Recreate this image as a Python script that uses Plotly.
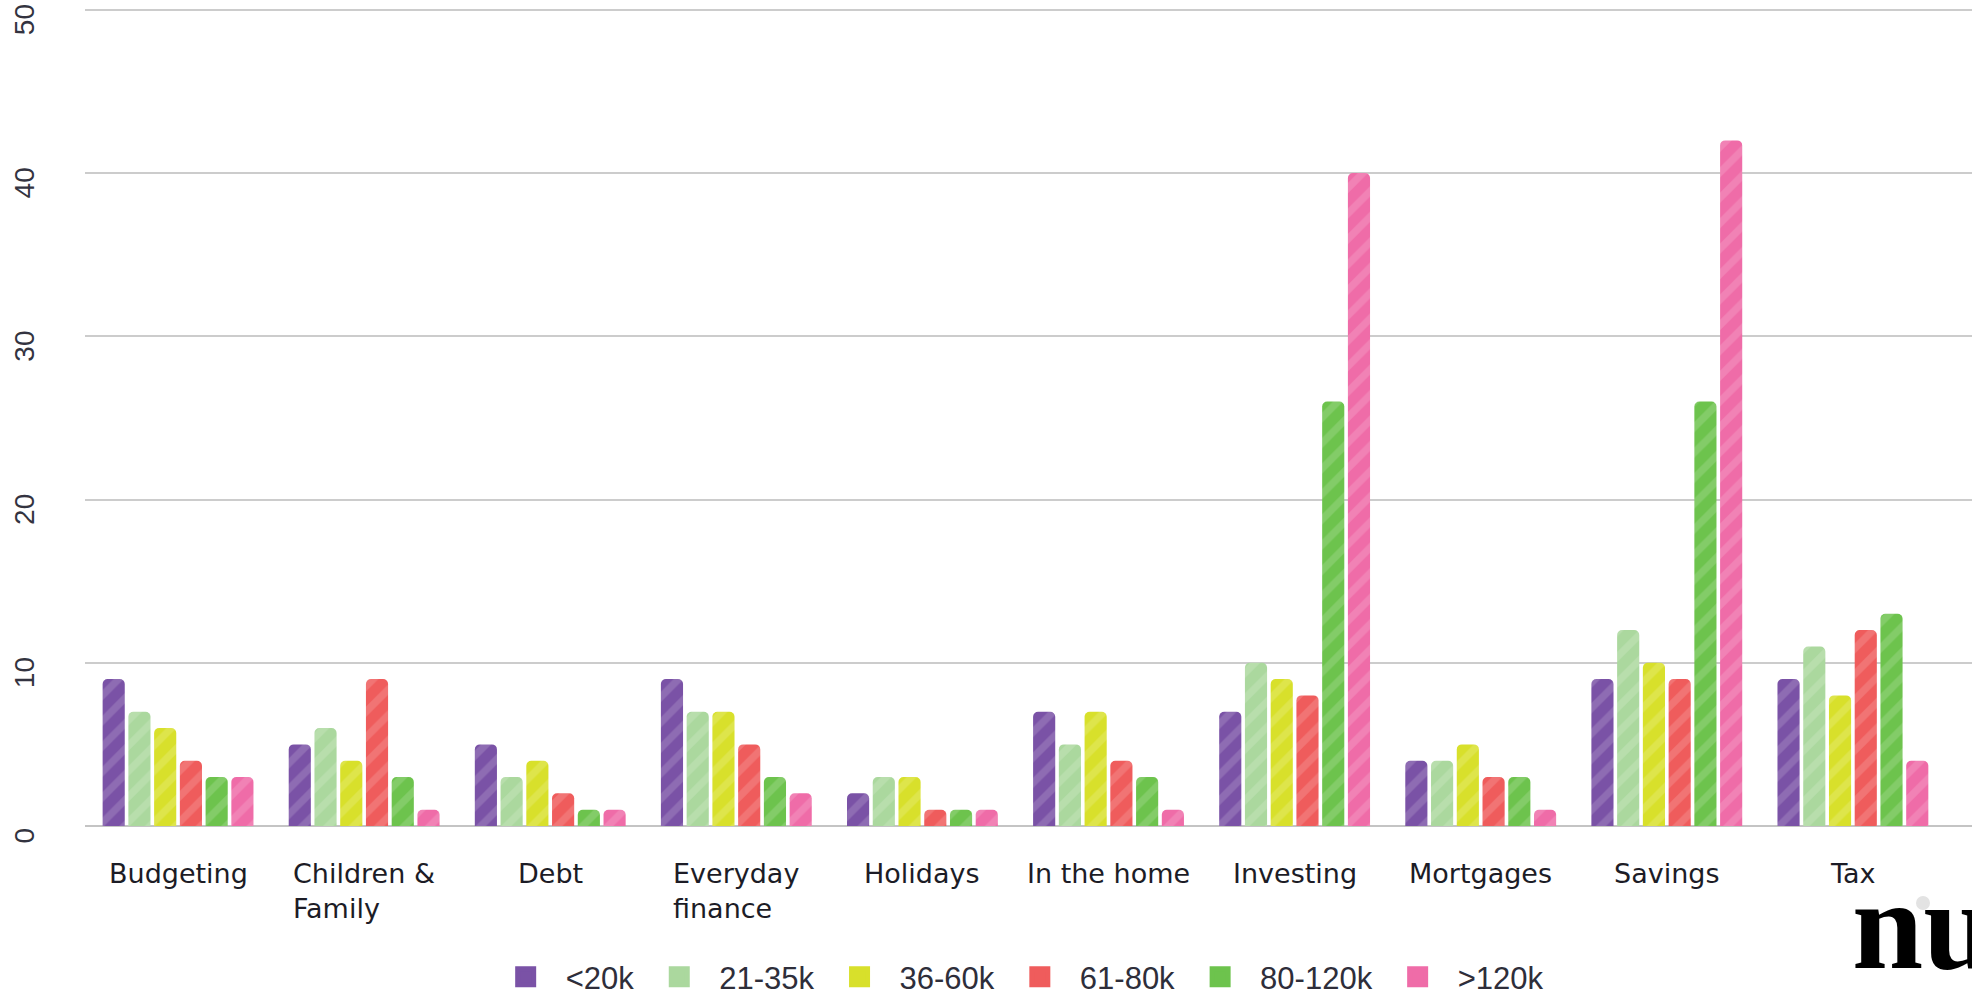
import plotly.graph_objects as go

categories = ["Budgeting", "Children &<br>Family", "Debt", "Everyday<br>finance", "Holidays",
              "In the home", "Investing", "Mortgages", "Savings", "Tax"]
series_names = ["<20k", "21-35k", "36-60k", "61-80k", "80-120k", ">120k"]
lt20k = [9, 5, 5, 9, 2, 7, 7, 4, 9, 9]
k21_35 = [7, 6, 3, 7, 3, 5, 10, 4, 12, 11]
k36_60 = [6, 4, 4, 7, 3, 7, 9, 5, 10, 8]
k61_80 = [4, 9, 2, 5, 1, 4, 8, 3, 9, 12]
k80_120 = [3, 3, 1, 3, 1, 3, 26, 3, 26, 13]
gt120k = [3, 1, 1, 2, 1, 1, 40, 1, 42, 4]
series_values = [lt20k, k21_35, k36_60, k61_80, k80_120, gt120k]
colors = ["#7A52A6", "#ABD89E", "#D8E02B", "#EF5C5C", "#6DC34D", "#EF6CA8"]
y_ticks = [0, 10, 20, 30, 40, 50]

x_idx = list(range(len(categories)))
PLOT_H = 826  # px height of plotting area

fig = go.Figure()
for name, vals, col in zip(series_names, series_values, colors):
    fig.add_trace(go.Bar(
        x=x_idx, y=vals, name=name, showlegend=False,
        marker=dict(color=col, line=dict(width=0),
                    pattern=dict(shape="/", fillmode="overlay", bgcolor=col,
                                 fgcolor="white", fgopacity=0.15, size=18, solidity=0.4)),
    ))
# legend entries
for name, col in zip(series_names, colors):
    fig.add_trace(go.Scatter(
        x=[None], y=[None], mode="markers", name=name,
        marker=dict(symbol="square", size=16, color=col, line=dict(width=5, color=col)),
    ))

annotations = []
for i, lab in enumerate(categories):
    annotations.append(dict(
        x=i, xref="x", y=0, yref="paper", yshift=-30, yanchor="top", xanchor="center",
        text=lab, align="left", showarrow=False,
        font=dict(family="DejaVu Sans", size=27, color="#1c1c26"),
    ))
annotations.append(dict(
    x=(1850 - 85) / 1887, xref="paper", xanchor="left", y=-(937.5 - 13 - 826) / PLOT_H,
    yref="paper", yanchor="middle",
    text="<b>nu</b>", showarrow=False,
    font=dict(family="Liberation Serif", size=128, color="#000000"),
))

shapes = [dict(type="circle", xref="paper", yref="paper",
               x0=(1923 - 85 - 7) / 1887, x1=(1923 - 85 + 7) / 1887,
               y0=(826 - 903 - 7) / PLOT_H, y1=(826 - 903 + 7) / PLOT_H,
               fillcolor="#e3e3e3", line=dict(width=0), layer="below")]

fig.update_layout(
    width=1972, height=996,
    margin=dict(l=85, r=0, t=0, b=170, autoexpand=False),
    paper_bgcolor="white", plot_bgcolor="white",
    barmode="group", bargap=0.17, bargroupgap=0.14, barcornerradius=5,
    annotations=annotations, shapes=shapes,
    legend=dict(orientation="h", x=0.494, xanchor="center", y=-(977 - 826) / PLOT_H,
                yanchor="middle",
                font=dict(family="Liberation Sans", size=31, color="#2e2e3a"),
                itemwidth=70, itemclick=False),
    xaxis=dict(range=[-0.5, 9.64], showticklabels=False, showgrid=False, zeroline=False,
               showline=False, ticks=""),
    yaxis=dict(range=[0, 50.6], tickvals=y_ticks, tickangle=-90, showgrid=True,
               gridcolor="#cccccc", gridwidth=2, zeroline=True, zerolinecolor="#c4c4c4",
               zerolinewidth=2, showline=False, ticks="", ticklabelstandoff=44,
               ticklabelshift=14, ticklabeloverflow="allow",
               tickfont=dict(family="Liberation Sans", size=28, color="#333340")),
)

fig.write_html("out.html")
